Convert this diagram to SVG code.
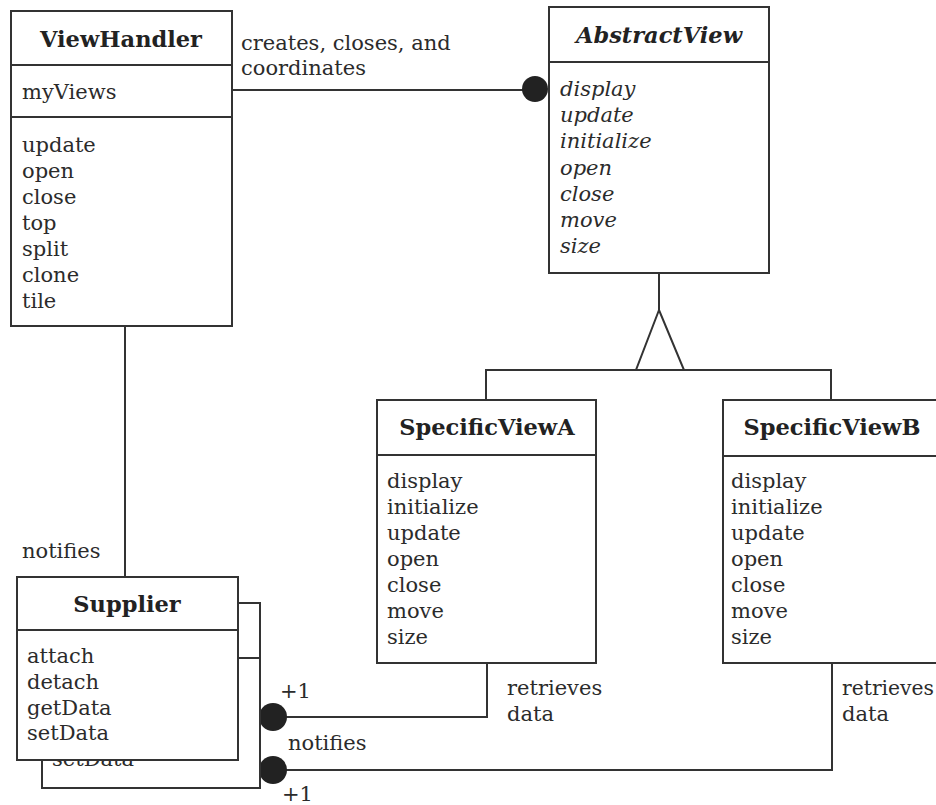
<svg xmlns="http://www.w3.org/2000/svg" width="936" height="805" viewBox="0 0 936 805">
<style>
.box{fill:#fff;stroke:#333;stroke-width:2}
.ln{fill:none;stroke:#333;stroke-width:2}
.t{font-family:"DejaVu Serif","Liberation Serif",serif;font-size:21px;fill:#2b2b2b}
.ti{font-family:"DejaVu Serif","Liberation Serif",serif;font-size:21px;font-style:italic;fill:#2b2b2b}
.h{font-family:"DejaVu Serif","Liberation Serif",serif;font-size:22.5px;font-weight:bold;fill:#222;text-anchor:middle}
.hi{font-family:"DejaVu Serif","Liberation Serif",serif;font-size:22.5px;font-weight:bold;font-style:italic;fill:#222;text-anchor:middle}
.dot{fill:#222}
</style>
<rect width="936" height="805" fill="#fff"/>
<g id="connectors">
<line class="ln" x1="232" y1="90" x2="524" y2="90"/>
<circle class="dot" cx="535" cy="89" r="13"/>
<line class="ln" x1="125" y1="326" x2="125" y2="577"/>
<line class="ln" x1="659" y1="273" x2="659" y2="310"/>
<polygon class="ln" points="659,310 636,370 684,370"/>
<polyline class="ln" points="486,400 486,370 831,370 831,400"/>
<polyline class="ln" points="487,663 487,717 285,717"/>
<circle class="dot" cx="273" cy="717" r="14"/>
<polyline class="ln" points="832,663 832,770 285,770"/>
<circle class="dot" cx="273" cy="770" r="14"/>
<text class="t" x="241" y="50">creates, closes, and</text>
<text class="t" x="241" y="75">coordinates</text>
<text class="t" x="22" y="558">notifies</text>
<text class="t" x="280" y="698">+1</text>
<text class="t" x="288" y="750">notifies</text>
<text class="t" x="282" y="801">+1</text>
<text class="t" x="507" y="695">retrieves</text>
<text class="t" x="507" y="721">data</text>
<text class="t" x="842" y="695" textLength="92" lengthAdjust="spacingAndGlyphs">retrieves</text>
<text class="t" x="842" y="721">data</text>
</g>
<g id="ViewHandler">
<rect class="box" x="11" y="11" width="221" height="315"/>
<line class="ln" x1="11" y1="65" x2="232" y2="65"/>
<line class="ln" x1="11" y1="117" x2="232" y2="117"/>
<text class="h" x="121" y="47">ViewHandler</text>
<text class="t" x="22" y="99">myViews</text>
<text class="t" x="22" y="152">update</text>
<text class="t" x="22" y="178">open</text>
<text class="t" x="22" y="204">close</text>
<text class="t" x="22" y="230">top</text>
<text class="t" x="22" y="256">split</text>
<text class="t" x="22" y="282">clone</text>
<text class="t" x="22" y="308">tile</text>
</g>
<g id="AbstractView">
<rect class="box" x="549" y="7" width="220" height="266"/>
<line class="ln" x1="549" y1="62" x2="769" y2="62"/>
<text class="hi" x="659" y="43">AbstractView</text>
<text class="ti" x="560" y="96">display</text>
<text class="ti" x="560" y="122">update</text>
<text class="ti" x="560" y="148">initialize</text>
<text class="ti" x="560" y="175">open</text>
<text class="ti" x="560" y="201">close</text>
<text class="ti" x="560" y="227">move</text>
<text class="ti" x="560" y="253">size</text>
</g>
<g id="SpecificViewA">
<rect class="box" x="377" y="400" width="219" height="263"/>
<line class="ln" x1="377" y1="455" x2="596" y2="455"/>
<text class="h" x="487" y="435">SpecificViewA</text>
<text class="t" x="387" y="488">display</text>
<text class="t" x="387" y="514">initialize</text>
<text class="t" x="387" y="540">update</text>
<text class="t" x="387" y="566">open</text>
<text class="t" x="387" y="592">close</text>
<text class="t" x="387" y="618">move</text>
<text class="t" x="387" y="644">size</text>
</g>
<g id="SpecificViewB">
<rect class="box" x="723" y="400" width="240" height="263"/>
<line class="ln" x1="723" y1="456" x2="963" y2="456"/>
<text class="h" x="832" y="435">SpecificViewB</text>
<text class="t" x="731" y="488">display</text>
<text class="t" x="731" y="514">initialize</text>
<text class="t" x="731" y="540">update</text>
<text class="t" x="731" y="566">open</text>
<text class="t" x="731" y="592">close</text>
<text class="t" x="731" y="618">move</text>
<text class="t" x="731" y="644">size</text>
</g>
<g id="Supplier">
<rect class="box" x="42" y="603" width="218" height="185"/>
<line class="ln" x1="42" y1="658" x2="260" y2="658"/>
<text class="t" x="52" y="766">setData</text>
<rect class="box" x="17" y="577" width="221" height="183"/>
<line class="ln" x1="17" y1="630" x2="238" y2="630"/>
<text class="h" x="127" y="612">Supplier</text>
<text class="t" x="27" y="663">attach</text>
<text class="t" x="27" y="689">detach</text>
<text class="t" x="27" y="715">getData</text>
<text class="t" x="27" y="740">setData</text>
</g>
</svg>
